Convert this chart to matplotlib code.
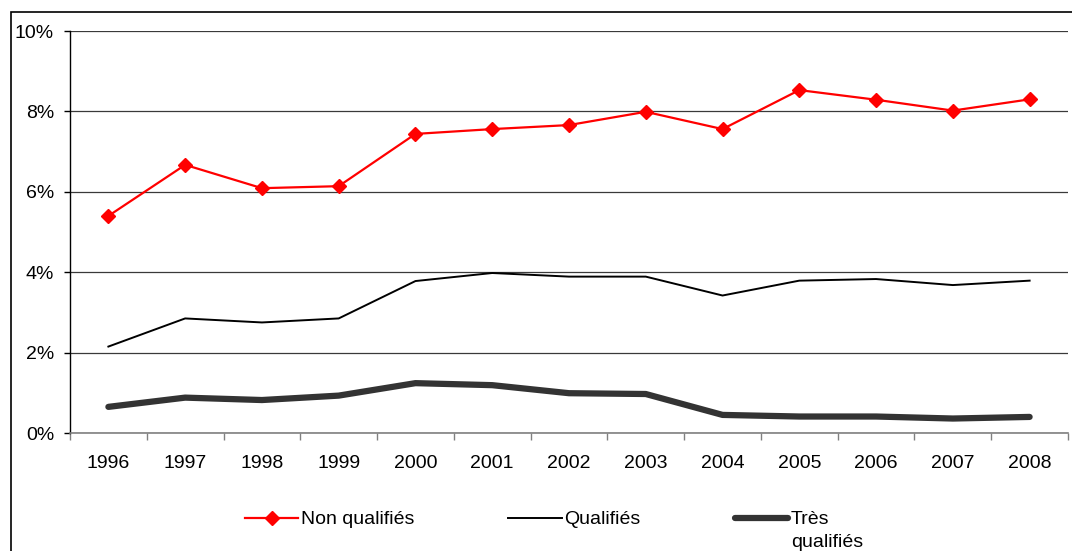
import matplotlib
matplotlib.use("Agg")
import matplotlib.pyplot as plt
from matplotlib.patches import Rectangle
from matplotlib.ticker import FuncFormatter, MultipleLocator, FixedLocator
from matplotlib.offsetbox import HPacker

plt.rcParams['font.family'] = ['Liberation Sans', 'DejaVu Sans']

years = ['1996', '1997', '1998', '1999', '2000', '2001', '2002',
         '2003', '2004', '2005', '2006', '2007', '2008']
non_qualifies = [5.40, 6.67, 6.09, 6.14, 7.44, 7.56, 7.66, 7.99, 7.56, 8.53, 8.29, 8.02, 8.30]
qualifies = [2.15, 2.85, 2.75, 2.85, 3.78, 3.98, 3.89, 3.89, 3.42, 3.79, 3.83, 3.68, 3.79]
tres_qualifies = [0.65, 0.88, 0.82, 0.93, 1.24, 1.19, 0.99, 0.97, 0.45, 0.41, 0.41, 0.36, 0.40]
series_labels = ['Non qualifiés', 'Qualifiés', 'Très\nqualifiés']

fig = plt.figure(figsize=(10.72, 5.51), dpi=100)
fig.patch.set_facecolor('white')

# outer chart frame (open on the right and bottom)
fig.add_artist(Rectangle((11 / 1072, -0.05), 1.2, 1 - 12 / 551 + 0.05,
                         transform=fig.transFigure, fill=False,
                         edgecolor='black', linewidth=1.2, clip_on=False))

ax = fig.add_axes([70 / 1072, 1 - 433 / 551, 998 / 1072, 402 / 551])
x = list(range(len(years)))

ax.plot(x, non_qualifies, color='#ff0000', linewidth=1.6, marker='D',
        markersize=7.5, markeredgecolor='#ff0000', label=series_labels[0], zorder=4)
ax.plot(x, qualifies, color='black', linewidth=1.4, label=series_labels[1], zorder=3)
ax.plot(x, tres_qualifies, color='#333333', linewidth=4.5,
        solid_capstyle='round', label=series_labels[2], zorder=3)

ax.set_xlim(-0.5, len(years) - 0.5)
ax.set_ylim(0, 10)
ax.yaxis.set_major_locator(MultipleLocator(2))
ax.yaxis.set_major_formatter(FuncFormatter(lambda v, p: f"{v:.0f}%"))
ax.grid(axis='y', color='#3a3a3a', linewidth=0.9)
ax.set_axisbelow(True)

ax.set_xticks(x)
ax.set_xticklabels(years)
ax.xaxis.set_minor_locator(FixedLocator([i - 0.5 for i in range(len(years) + 1)]))
ax.tick_params(axis='x', which='major', length=0, pad=16, labelsize=14)
ax.tick_params(axis='x', which='minor', length=5, color='#808080', width=1)
ax.tick_params(axis='y', length=4.5, width=1, pad=7, labelsize=14)

for s in ['top', 'right']:
    ax.spines[s].set_visible(False)
ax.spines['left'].set_color('black')
ax.spines['left'].set_linewidth(1)
ax.spines['bottom'].set_color('#808080')
ax.spines['bottom'].set_linewidth(1.2)

leg = ax.legend(loc='upper left', bbox_to_anchor=(245 / 1072, 1 - 511 / 551),
                bbox_transform=fig.transFigure, ncol=3, frameon=False,
                fontsize=14, handlelength=2.75, handletextpad=0.12,
                columnspacing=4.85, borderpad=0, borderaxespad=0)
for t in leg.get_texts():
    t.set_linespacing(1.45)

# keep each legend key level with the first line of its label
def _align_entries(box):
    if isinstance(box, HPacker):
        box.align = 'top'
    if hasattr(box, 'get_children'):
        for child in box.get_children():
            _align_entries(child)

_align_entries(leg._legend_handle_box)

fig.savefig('out.png', dpi=100, facecolor='white')
